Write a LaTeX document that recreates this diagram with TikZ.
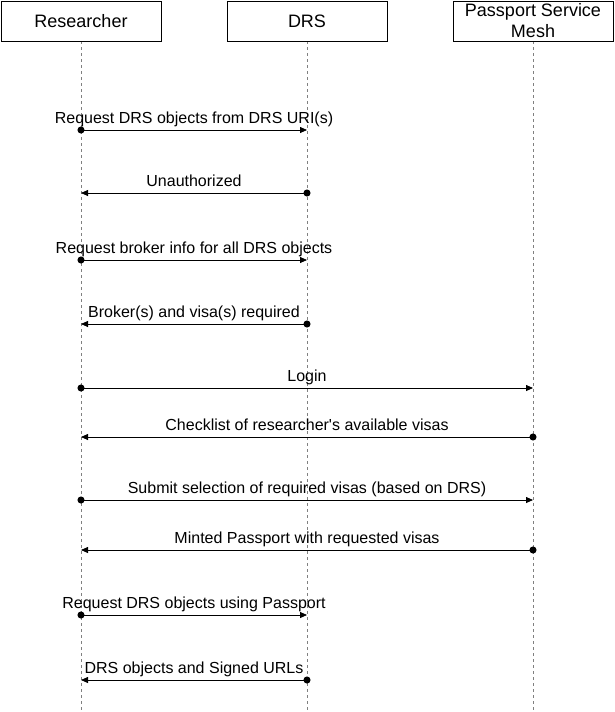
\documentclass[tikz,border=0pt]{standalone}
\usepackage{fontspec}
\setmainfont{Liberation Sans}
\usetikzlibrary{arrows.meta}
\begin{document}
\begin{tikzpicture}[x=1pt,y=-1pt,
  actor/.style={draw=black,line width=1pt,fill=white,minimum width=160pt,minimum height=40pt,inner sep=0pt,font=\fontsize{18}{21}\selectfont,align=center},
  life/.style={draw=gray,dash pattern=on 3pt off 3pt,line width=0.8pt},
  msg/.style={draw=black,line width=0.8pt,shorten <=-3.5pt,{Circle[length=7pt]}-{Triangle[length=7pt,width=6pt]}},
  lbl/.style={font=\fontsize{16}{18}\selectfont,anchor=base,inner sep=0pt,yshift=7pt}
]
\useasboundingbox (0,0) rectangle (615,712);
% lifelines
\coordinate (rt) at (81,41); \coordinate (rb) at (81,712);
\coordinate (dt) at (307,41); \coordinate (db) at (307,712);
\coordinate (pt) at (533,41); \coordinate (pb) at (533,712);
\draw[life] (rt) -- (rb);
\draw[life] (dt) -- (db);
\draw[life] (pt) -- (pb);
\node[actor] (R) at (81,21) {Researcher};
\node[actor] (D) at (307,21) {DRS};
\node[actor] (P) at (533,21) {Passport Service\\Mesh};
% message endpoints
\foreach \n/\y in {1/130,2/193,3/260,4/324,5/388,6/437,7/500,8/550,9/615,10/680}{
  \coordinate (r\n) at (81,\y);
  \coordinate (d\n) at (307,\y);
  \coordinate (p\n) at (533,\y);
}
\draw[msg] (r1) -- node[lbl] (m1) {Request DRS objects from DRS URI(s)} (d1);
\draw[msg] (d2) -- node[lbl] (m2) {Unauthorized} (r2);
\draw[msg] (r3) -- node[lbl] (m3) {Request broker info for all DRS objects} (d3);
\draw[msg] (d4) -- node[lbl] (m4) {Broker(s) and visa(s) required} (r4);
\draw[msg] (r5) -- node[lbl] (m5) {Login} (p5);
\draw[msg] (p6) -- node[lbl] (m6) {Checklist of researcher\textquotesingle s available visas} (r6);
\draw[msg] (r7) -- node[lbl] (m7) {Submit selection of required visas (based on DRS)} (p7);
\draw[msg] (p8) -- node[lbl] (m8) {Minted Passport with requested visas} (r8);
\draw[msg] (r9) -- node[lbl] (m9) {Request DRS objects using Passport} (d9);
\draw[msg] (d10) -- node[lbl] (m10) {DRS objects and Signed URLs} (r10);
\end{tikzpicture}
\end{document}
